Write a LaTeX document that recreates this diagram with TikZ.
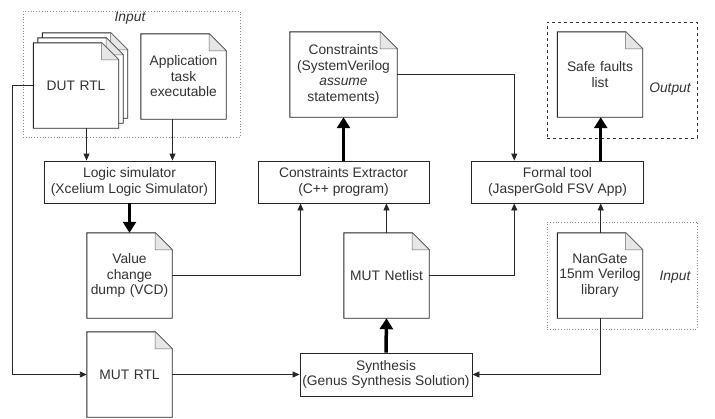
\documentclass[tikz,border=0pt]{standalone}
\usepackage{fontspec}
\setmainfont{Liberation Sans}
\usepackage{xcolor}
\usetikzlibrary{
	arrows.meta,
	positioning,
	calc
}
\definecolor{txtgray}{HTML}{333333}
\definecolor{foldgray}{HTML}{E6E6E6}
\tikzstyle{doc} = [rectangle, minimum width=85pt, minimum height=85pt, inner sep=0pt]
\tikzstyle{doctext} = [rectangle, text width=100pt, inner sep=0pt, align=center, text=txtgray]
\tikzstyle{tool} = [rectangle, draw=black!85, line width=0.9pt, minimum width=171pt, minimum height=42pt, inner sep=0pt, align=center, text=txtgray, fill=white]
\tikzstyle{arrow} = [line width=0.9pt, draw=black!85, -{Triangle[length=7pt, width=6pt]}]
\tikzstyle{bigarrow} = [line width=3.5pt, draw=black, -{Triangle[length=11pt, width=13pt]}]
\tikzstyle{zone} = [rectangle, draw=black!45, dotted, line width=0.8pt, inner sep=0pt]
\tikzstyle{tag} = [font=\fontsize{13.8}{15.5}\selectfont\itshape, text=txtgray]

% feuille avec coin replie
\newcommand{\docframe}[1]{%
	\draw[line width=0.9pt, draw=black!85, fill=white] (#1.south west) -- (#1.north west)
	-- ($(#1.north east)+(-17pt,0pt)$) -- ($(#1.north east)+(0pt,-17pt)$) -- (#1.south east) -- cycle;
	\draw[line width=0.5pt, draw=black!60, fill=foldgray] ($(#1.north east)+(-17pt,0pt)$)
	-- ($(#1.north east)+(-17pt,-17pt)$) -- ($(#1.north east)+(0pt,-17pt)$) -- cycle;
}

\begin{document}
\begin{tikzpicture}[x=1pt, y=-1pt, every node/.style={font=\fontsize{13.8}{15.5}\selectfont}]
	\useasboundingbox (0,0) rectangle (715,418);
	
	% ====== Zones Input / Output ======
	\node[zone, minimum width=217pt, minimum height=126pt] (in1) at (131.5,74) {};
	\node[tag] (in1tag) at (130,18) {Input};
	
	\node[zone, dashed, draw=black!80, minimum width=150pt, minimum height=116pt] (out) at (622,80) {};
	\node[tag] (outtag) at (670,89) {Output};
	
	\node[zone, minimum width=150pt, minimum height=107pt] (in2) at (622,275.5) {};
	\node[tag] (in2tag) at (675,277) {Input};
	
	% ====== Documents ======
	\node[doc] (dut3) at (85,75.5) {};
	\docframe{dut3}
	\node[doc] (dut2) at (80.5,80.5) {};
	\docframe{dut2}
	\node[doc] (dut) at (76,85.5) {};
	\docframe{dut}
	\node[doctext] (duttext) at (dut) {DUT RTL};
	
	\node[doc] (app) at (183.5,76.5) {};
	\docframe{app}
	\node[doctext] (apptext) at (app) {Application\\task\\executable};
	
	\node[doc, minimum width=107pt] (cons) at (343.5,74.5) {};
	\docframe{cons}
	\node[doctext, text width=106pt] (constext) at (cons) {Constraints\\(SystemVerilog\\\textit{assume}\\statements)};
	
	\node[doc] (safe) at (600,74.5) {};
	\docframe{safe}
	\node[doctext] (safetext) at (safe) {Safe faults\\list};
	
	\node[doc] (vcd) at (129.5,275.5) {};
	\docframe{vcd}
	\node[doctext] (vcdtext) at (vcd) {Value\\change\\dump (VCD)};
	
	\node[doc] (netlist) at (386.5,275.5) {};
	\docframe{netlist}
	\node[doctext] (netlisttext) at (netlist) {MUT Netlist};
	
	\node[doc] (nangate) at (600,275.5) {};
	\docframe{nangate}
	\node[doctext] (nangatetext) at (nangate) {NanGate\\15nm Verilog\\library};
	
	\node[doc] (mutrtl) at (129.5,374.5) {};
	\docframe{mutrtl}
	\node[doctext] (mutrtltext) at (mutrtl) {MUT RTL};
	
	% ====== Outils ======
	\node[tool] (logsim) at (129.5,182) {Logic simulator\\(Xcelium Logic Simulator)};
	\node[tool] (extr) at (343.5,182) {Constraints Extractor\\(C++ program)};
	\node[tool, minimum width=172pt] (formal) at (557.5,182) {Formal tool\\(JasperGold FSV App)};
	\node[tool, minimum width=172pt, minimum height=43pt] (synth) at (386,374.5) {Synthesis\\(Genus Synthesis Solution)};
	
	\coordinate (ls1) at ($(logsim.north west)!0.25!(logsim.north east)$);
	\coordinate (ls3) at ($(logsim.north west)!0.75!(logsim.north east)$);
	\coordinate (ex1) at ($(extr.south west)!0.25!(extr.south east)$);
	\coordinate (ex3) at ($(extr.south west)!0.75!(extr.south east)$);
	\coordinate (ft1) at ($(formal.north west)!0.25!(formal.north east)$);
	\coordinate (fb1) at ($(formal.south west)!0.25!(formal.south east)$);
	\coordinate (fb3) at ($(formal.south west)!0.75!(formal.south east)$);
	\coordinate (ft3) at ($(formal.north west)!0.75!(formal.north east)$);
	
	% ====== Liaisons ======
	\draw[arrow] (dut.south -| ls1) -- (ls1);
	\draw[arrow] (app.south -| ls3) -- (ls3);
	\draw[arrow] (dut.west) -- ++(-21,0) |- (mutrtl.west);
	\draw[bigarrow] (logsim.south) -- (vcd.north);
	\draw[arrow] (vcd.east) -| (ex1);
	\draw[arrow] (netlist.north -| ex3) -- (ex3);
	\draw[bigarrow] (extr.north) -- (cons.south);
	\draw[arrow] (cons.east) -| (ft1);
	\draw[bigarrow] (ft3) -- (safe.south -| ft3);
	\draw[arrow] (netlist.east) -| (fb1);
	\draw[arrow] (nangate.north -| fb3) -- (fb3);
	\draw[bigarrow] (synth.north) -- (netlist.south);
	\draw[arrow] (mutrtl.east) -- (synth.west);
	\draw[arrow] (nangate.south) |- (synth.east);
	
\end{tikzpicture}
\end{document}
